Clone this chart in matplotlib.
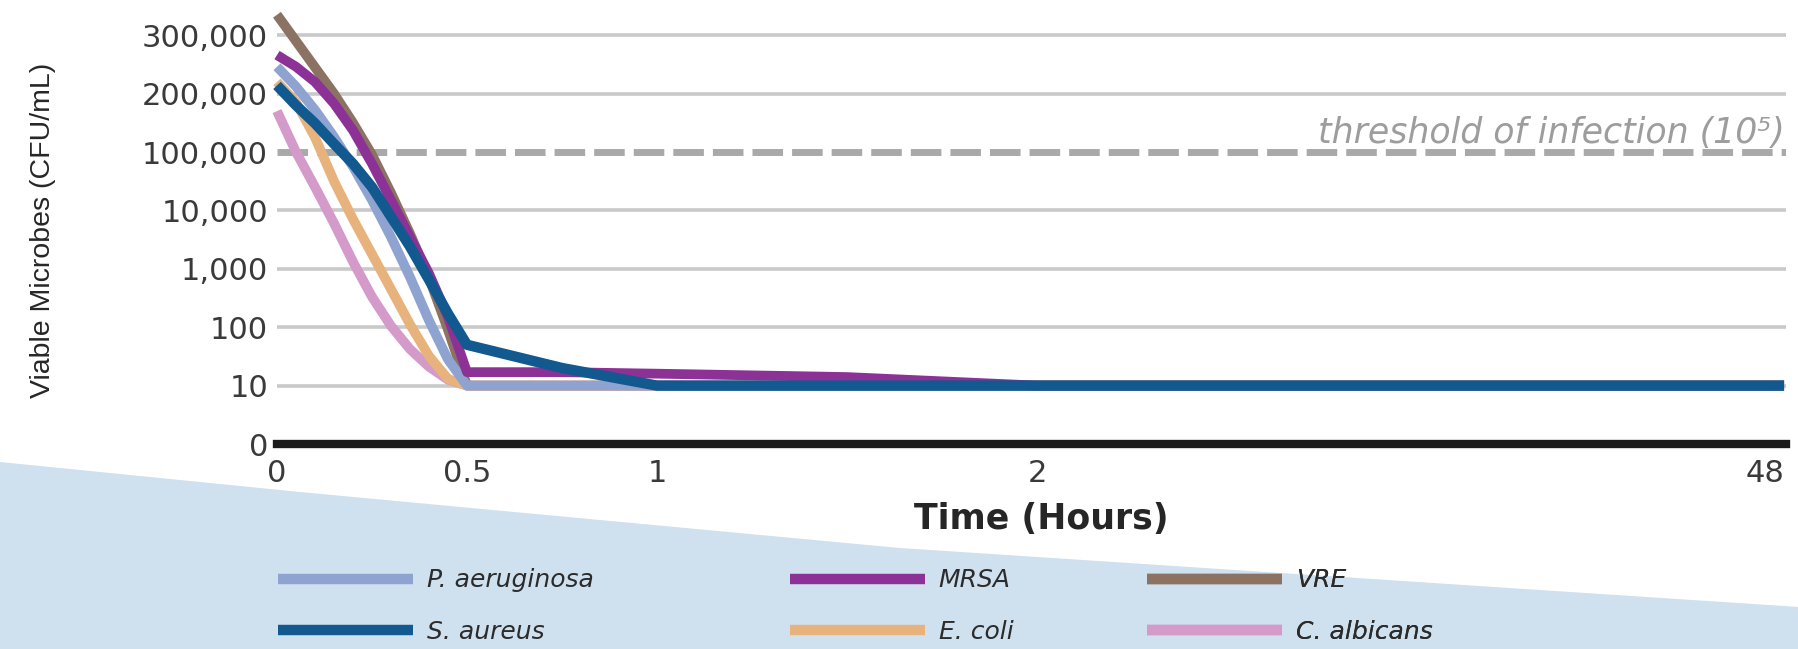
import numpy as np
import matplotlib
matplotlib.use("Agg")
import matplotlib.pyplot as plt
from matplotlib.patches import Polygon
from matplotlib.lines import Line2D

plt.rcParams['font.family'] = 'DejaVu Sans'
plt.rcParams['lines.scale_dashes'] = False

# time points (hours) and CFU/mL
hours = [0, 0.05, 0.1, 0.15, 0.2, 0.25, 0.3, 0.35, 0.4, 0.45, 0.5, 0.75, 1, 1.5, 2, 48]

p_aeruginosa = [246000, 212000, 172000, 126000, 56000, 15000, 3500, 720, 130, 28, 10, 10, 10, 10, 10, 10]
mrsa = [266000, 246000, 220000, 183000, 137000, 63000, 15000, 3500, 830, 150, 17, 17, 16, 14, 10, 10]
vre = [335000, 290000, 245000, 200000, 150000, 90000, 20000, 4000, 700, 90, 10, 10, 10, 10, 10, 10]
s_aureus = [214000, 180000, 149000, 114000, 63000, 25000, 7800, 2400, 650, 170, 50, 20, 10, 10, 10, 10]
e_coli = [220000, 185000, 125000, 31600, 7080, 1780, 447, 112, 32, 13, 10, 10, 10, 10, 10, 10]
c_albicans = [170000, 100000, 25100, 6030, 1320, 331, 105, 42, 21, 12.6, 10, 10, 10, 10, 10, 10]

y_ticks = [0, 10, 100, 1000, 10000, 100000, 200000, 300000]
y_labels = ['0', '10', '100', '1,000', '10,000', '100,000', '200,000', '300,000']
x_ticks = [0, 0.5, 1, 2, 48]
x_labels = ['0', '0.5', '1', '2', '48']
threshold = 100000


# uneven y axis: linear 0-10, log 10-100k, linear above 100k
def yfwd(v):
    v = np.asarray(v, dtype=float)
    return np.where(v < 10, v / 10,
                    np.where(v <= 1e5, np.log10(np.clip(v, 10, 1e5)), 5 + (v - 1e5) / 1e5))


def yinv(p):
    p = np.asarray(p, dtype=float)
    return np.where(p < 1, p * 10,
                    np.where(p <= 5, 10 ** np.clip(p, 1, 5), (p - 4) * 1e5))


# x axis: linear to 2 h, then squeezed up to 48 h
SQ = 1.966 / 46


def xfwd(t):
    t = np.asarray(t, dtype=float)
    return np.where(t <= 2, t, 2 + (t - 2) * SQ)


def xinv(u):
    u = np.asarray(u, dtype=float)
    return np.where(u <= 2, u, 2 + (u - 2) / SQ)


W, H = 1799, 649
fig = plt.figure(figsize=(W / 100, H / 100), dpi=100)

# light blue band at the bottom
band = [(0, 462), (300, 492), (900, 548), (1799, 607), (1799, 649), (0, 649)]
fig.add_artist(Polygon([(x / W, 1 - y / H) for x, y in band], closed=True,
                       facecolor='#cfe0ef', edgecolor='none', zorder=0))

ax = fig.add_axes([277 / W, (H - 444) / H, 1509 / W, 438 / H])
ax.patch.set_alpha(0)
ax.set_xscale('function', functions=(xfwd, xinv))
ax.set_yscale('function', functions=(yfwd, yinv))
ax.set_xlim(0, 48.12)
ax.set_ylim(0, 350000)

for v in y_ticks:
    if v in (0, threshold):
        continue
    ax.axhline(v, color='#c9c9c9', lw=2.6, zorder=1)
ax.axhline(threshold, color='#a9a9a9', lw=5, dashes=(22, 6.5), zorder=1)

series = [
    ('VRE', vre, '#8c7262', 7),
    ('C. albicans', c_albicans, '#d49ac9', 7),
    ('E. coli', e_coli, '#e8b27c', 7),
    ('P. aeruginosa', p_aeruginosa, '#8fa3d1', 7),
    ('MRSA', mrsa, '#8c3195', 7),
    ('S. aureus', s_aureus, '#12598f', 7.5),
]
for i, (name, vals, col, lw) in enumerate(series):
    ax.plot(hours, vals, color=col, lw=lw, solid_capstyle='butt',
            solid_joinstyle='round', zorder=3 + i, clip_on=False)

ax.annotate('threshold of infection (10\u2075)', xy=(1, threshold),
            xycoords=('axes fraction', 'data'), xytext=(-1, 6.5),
            textcoords='offset points', ha='right', va='baseline',
            fontsize=25, style='italic', color='#9d9d9d', zorder=10)

for s in ['top', 'left', 'right']:
    ax.spines[s].set_visible(False)
ax.spines['bottom'].set_linewidth(6)
ax.spines['bottom'].set_color('#1c1c1c')
ax.spines['bottom'].set_zorder(12)

ax.set_yticks(y_ticks)
ax.set_yticklabels(y_labels)
ax.set_xticks(x_ticks)
ax.set_xticklabels(x_labels)
ax.minorticks_off()
ax.tick_params(axis='y', length=0, pad=6.5, labelsize=22, labelcolor='#3a3a3a')
ax.tick_params(axis='x', length=0, pad=11, labelsize=22, labelcolor='#3a3a3a')
ax.get_xticklabels()[-1].set_ha('right')

fig.text(43 / W, 1 - 230 / H, 'Viable Microbes (CFU/mL)', rotation=90,
         ha='center', va='center', fontsize=20.5, family='Liberation Sans',
         color='#262626')
fig.text(1041 / W, 1 - 519 / H, 'Time (Hours)', ha='center', va='center',
         fontsize=25, fontweight='bold', color='#262626')

# legend, three columns placed separately
colors = {name: col for name, _, col, _ in series}
columns = [(278, ['P. aeruginosa', 'S. aureus']),
           (790, ['MRSA', 'E. coli']),
           (1147, ['VRE', 'C. albicans'])]
for x0, names in columns:
    handles = [Line2D([], [], color=colors[n], lw=7.5, solid_capstyle='butt') for n in names]
    leg = ax.legend(handles, names, loc='center left',
                    bbox_to_anchor=(x0 / W, 1 - 606 / H), bbox_transform=fig.transFigure,
                    frameon=False, borderpad=0, borderaxespad=0,
                    handlelength=5.4, handletextpad=0.55, labelspacing=1.1,
                    prop={'size': 18, 'style': 'italic'})
    for t in leg.get_texts():
        t.set_color('#2b2b2b')
    ax.add_artist(leg)

fig.savefig('out.png', dpi=100)
